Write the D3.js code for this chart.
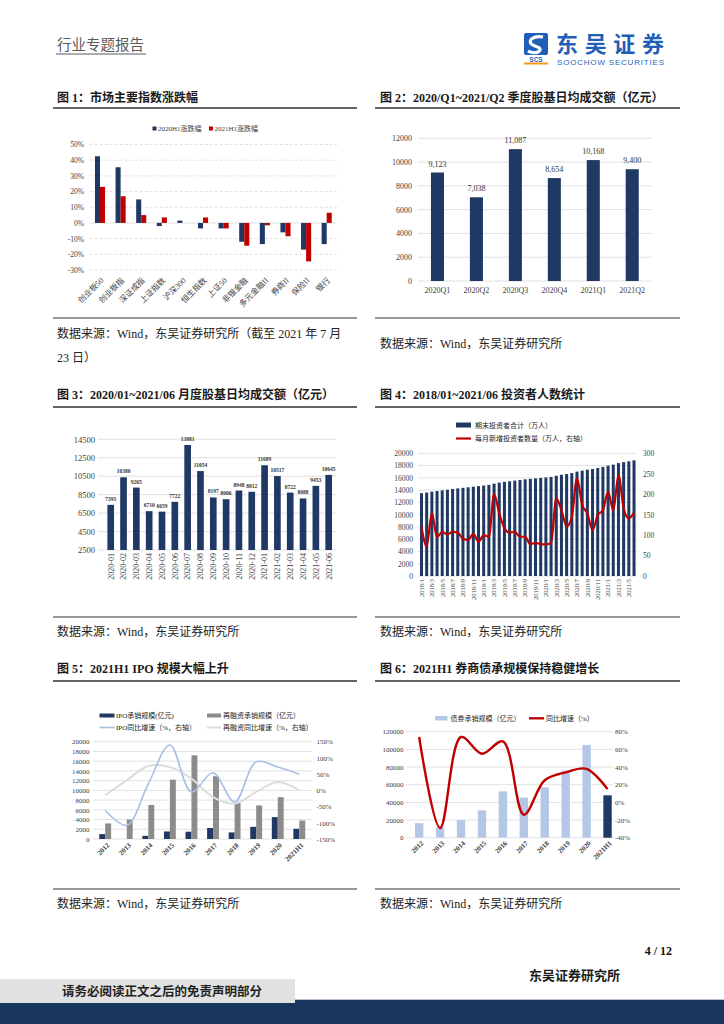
<!DOCTYPE html>
<html>
<head>
<meta charset="utf-8">
<script src="https://cdn.jsdelivr.net/npm/d3@7"></script>
<style>
  body { margin: 0; background: #fff; }
  svg text { font-family: "Liberation Serif", "Times New Roman", "Noto Sans CJK SC", serif; }
</style>
</head>
<body>
<svg id="page" width="724" height="1024"></svg>
<script>
// ===== data =====
// fig 1
var idxNames = ['创业板50', '创业板指', '深证成指', '上证指数', '沪深300', '恒生指数', '上证50', '非银金融', '多元金融II', '券商II', '保险II', '银行'];
var chg2020H1 = [42.5, 35.5, 15, -2, 1.5, -3.5, -3.5, -12, -13.5, -6, -17, -13.5];
var chg2021H1 = [23, 17, 5, 3.5, 0, 3.5, -3.5, -14.5, -1.5, -8.5, -24.5, 6.5];
var pctTicks = [50, 40, 30, 20, 10, 0, -10, -20, -30];

// fig 2
var quarters = ['2020Q1', '2020Q2', '2020Q3', '2020Q4', '2021Q1', '2021Q2'];
var qTurnover = [9123, 7038, 11087, 8654, 10168, 9400];
var qTicks = [0, 2000, 4000, 6000, 8000, 10000, 12000];

// fig 3
var months = ['2020-01', '2020-02', '2020-03', '2020-04', '2020-05', '2020-06', '2020-07', '2020-08', '2020-09',
  '2020-10', '2020-11', '2020-12', '2021-01', '2021-02', '2021-03', '2021-04', '2021-05', '2021-06'];
var mTurnover = [7395, 10380, 9265, 6710, 6659, 7722, 13881, 11054, 8197, 8006, 8948, 8812, 11689, 10517, 8722, 8088, 9453, 10645];
var mTicks = [2500, 4500, 6500, 8500, 10500, 12500, 14500];

// fig 4
var invMonths = ['2018/1', '2018/2', '2018/3', '2018/4', '2018/5', '2018/6', '2018/7', '2018/8', '2018/9', '2018/10', '2018/11', '2018/12',
  '2019/1', '2019/2', '2019/3', '2019/4', '2019/5', '2019/6', '2019/7', '2019/8', '2019/9', '2019/10', '2019/11', '2019/12',
  '2020/1', '2020/2', '2020/3', '2020/4', '2020/5', '2020/6', '2020/7', '2020/8', '2020/9', '2020/10', '2020/11', '2020/12',
  '2021/1', '2021/2', '2021/3', '2021/4', '2021/5', '2021/6'];
var invTotal = [13500, 13600, 13750, 13850, 13960, 14060, 14170, 14280, 14370, 14460, 14560, 14650,
  14750, 14850, 15050, 15220, 15340, 15440, 15550, 15650, 15750, 15830, 15910, 15980,
  16060, 16150, 16340, 16500, 16620, 16770, 17010, 17180, 17340, 17450, 17610, 17780,
  17990, 18150, 18400, 18560, 18700, 18850];
var invNew = [120, 73, 153, 95, 108, 102, 108, 106, 91, 88, 103, 84,
  100, 96, 200, 153, 117, 106, 108, 96, 96, 78, 81, 78,
  77, 81, 190, 161, 121, 145, 239, 174, 153, 112, 149, 161,
  206, 160, 247, 165, 141, 155];
var invTicksL = [0, 2000, 4000, 6000, 8000, 10000, 12000, 14000, 16000, 18000, 20000];
var invTicksR = [0, 50, 100, 150, 200, 250, 300];

// fig 5
var years = ['2012', '2013', '2014', '2015', '2016', '2017', '2018', '2019', '2020', '2021H1'];
var ipoAmt = [1000, 0, 650, 1550, 1500, 2250, 1350, 2500, 4500, 2100];
var refiAmt = [3200, 4000, 7000, 12200, 17200, 12900, 7400, 6900, 8600, 3800];
var ipoYoy = [-62, -108, 20, 140, -5, 54, -36, 88, 72, 50];
var refiYoy = [-15, 31, 75, 72, 36, -21, -41, -5, 26, 0];
var amtTicks5 = [0, 2000, 4000, 6000, 8000, 10000, 12000, 14000, 16000, 18000, 20000];
var yoyTicks5 = [-150, -100, -50, 0, 50, 100, 150];

// fig 6
var bondAmt = [16500, 11500, 20000, 31000, 52500, 45500, 57000, 76000, 105000, 48000];
var bondYoy = [74, -29, 74, 55, 69, -14, 25, 34, 38, 15];
var amtTicks6 = [0, 20000, 40000, 60000, 80000, 100000, 120000];
var yoyTicks6 = [-40, -20, 0, 20, 40, 60, 80];

// ===== styles =====
var NAVY = '#203864';
var RED = '#c00000';
var AXIS_TXT = '#404040';
var GRID = '#d9d9d9';
var SANS = '"Liberation Sans", Arial, sans-serif';

var svg = d3.select('#page');

// ===== helpers =====
function gridLines(g, y, ticks, x0, x1, dash) {
  g.selectAll(null).data(ticks).enter().append('line')
    .attr('x1', x0).attr('x2', x1)
    .attr('y1', function (d) { return y(d); })
    .attr('y2', function (d) { return y(d); })
    .attr('stroke', GRID).attr('stroke-width', 0.8)
    .attr('stroke-dasharray', dash || null);
}

function yAxis(g, scale, ticks, x, fmt, size, right) {
  var ax = right ? d3.axisRight(scale) : d3.axisLeft(scale);
  ax.tickValues(ticks).tickSize(0).tickPadding(0).tickFormat(fmt);
  var a = g.append('g').attr('transform', 'translate(' + x + ',0)').call(ax);
  a.select('.domain').remove();
  a.selectAll('text').attr('font-size', size).attr('fill', AXIS_TXT);
}

function rotLabels(g, x, list, y, angle, size, bold, dx) {
  g.selectAll(null).data(list).enter().append('text')
    .attr('transform', function (d) {
      return 'translate(' + (x(d) + x.bandwidth() / 2 + dx) + ',' + y + ') rotate(' + angle + ')';
    })
    .attr('text-anchor', 'end')
    .attr('dy', '0.35em')
    .attr('font-size', size)
    .attr('font-weight', bold ? 'bold' : null)
    .attr('fill', AXIS_TXT)
    .text(function (d) { return d; });
}

function txt(x, y, s, size, opts) {
  opts = opts || {};
  return svg.append('text').attr('x', x).attr('y', y).attr('font-size', size)
    .attr('fill', opts.fill || '#222')
    .attr('font-weight', opts.bold ? 'bold' : null)
    .attr('text-anchor', opts.anchor || 'start')
    .text(s);
}

function pct(d) { return d + '%'; }

// ===== page header =====
txt(57, 50, '行业专题报告', 14.5, { fill: '#595959' });
svg.append('line').attr('x1', 56).attr('x2', 146).attr('y1', 54).attr('y2', 54)
  .attr('stroke', '#595959').attr('stroke-width', 1);

// logo
var logo = svg.append('g');
logo.append('rect').attr('x', 524).attr('y', 33).attr('width', 24).attr('height', 22).attr('rx', 2).attr('fill', '#1f5fb8');
logo.append('path')
  .attr('d', 'M543,37 C533,35 527,41 532,44.5 C536,47.5 541,46.5 540,50 C538,54 531,53 528,51')
  .attr('fill', 'none').attr('stroke', '#fff').attr('stroke-width', 3.2);
logo.append('text').attr('x', 536).attr('y', 61.5).attr('text-anchor', 'middle')
  .attr('font-size', 6.5).attr('font-weight', 'bold').attr('fill', '#1f5fb8')
  .style('font-family', SANS).text('SCS');
logo.append('rect').attr('x', 524).attr('y', 62.5).attr('width', 24).attr('height', 2).attr('fill', '#f39a1e');
logo.append('text').attr('x', 556).attr('y', 51.5).attr('font-size', 22).attr('font-weight', 'bold')
  .attr('fill', '#1f5fb8').style('font-family', '"Noto Sans CJK SC", sans-serif')
  .attr('textLength', 108).text('东吴证券');
logo.append('text').attr('x', 557).attr('y', 64.5).attr('font-size', 8)
  .attr('fill', '#1f5fb8').style('font-family', SANS).attr('textLength', 107)
  .text('SOOCHOW SECURITIES');

// ===== titles, rules, captions =====
var titleRows = [102, 399, 673];
var titleTexts = [
  ['图 1：市场主要指数涨跌幅', '图 2：2020/Q1~2021/Q2 季度股基日均成交额（亿元）'],
  ['图 3：2020/01~2021/06 月度股基日均成交额（亿元）', '图 4：2018/01~2021/06 投资者人数统计'],
  ['图 5：2021H1 IPO 规模大幅上升', '图 6：2021H1 券商债承规模保持稳健增长']
];
var ruleTop = [108, 407, 681];
var ruleBottom = [318, 617, 889];
titleRows.forEach(function (y, i) {
  txt(57, y, titleTexts[i][0], 12, { bold: true, fill: '#1a1a1a' });
  txt(380, y, titleTexts[i][1], 12, { bold: true, fill: '#1a1a1a' });
  [[53, 357], [375, 680]].forEach(function (xx) {
    svg.append('line').attr('x1', xx[0]).attr('x2', xx[1]).attr('y1', ruleTop[i]).attr('y2', ruleTop[i])
      .attr('stroke', '#333').attr('stroke-width', 1.6);
    svg.append('line').attr('x1', xx[0]).attr('x2', xx[1]).attr('y1', ruleBottom[i]).attr('y2', ruleBottom[i])
      .attr('stroke', '#333').attr('stroke-width', 1.2);
  });
});

var SRC = '数据来源：Wind，东吴证券研究所';
txt(57, 338, SRC + '（截至 2021 年 7 月', 12);
txt(57, 362, '23 日）', 12);
txt(380, 348, SRC, 12);
txt(57, 636, SRC, 12);
txt(380, 636, SRC, 12);
txt(57, 908, SRC, 12);
txt(380, 908, SRC, 12);

// ===== fig 1: index returns =====
var g1 = svg.append('g');
var y1 = d3.scaleLinear().domain([-30, 50]).range([270, 144.5]);
var x1 = d3.scaleBand().domain(idxNames).range([89.7, 337]);
gridLines(g1, y1, pctTicks.filter(function (d) { return d !== 0; }), 89.7, 337, '3,2');
gridLines(g1, y1, [0], 89.7, 337);
yAxis(g1, y1, pctTicks, 84, pct, 7.5);

var bw1 = x1.bandwidth() * 0.245;
function barY(y, v) { return Math.min(y(0), y(v)); }
function barH(y, v) { return Math.abs(y(v) - y(0)); }

g1.selectAll(null).data(idxNames).enter().append('rect')
  .attr('x', function (d) { return x1(d) + x1.bandwidth() / 2 - bw1; })
  .attr('y', function (d, i) { return barY(y1, chg2020H1[i]); })
  .attr('width', bw1)
  .attr('height', function (d, i) { return barH(y1, chg2020H1[i]); })
  .attr('fill', NAVY);
g1.selectAll(null).data(idxNames).enter().append('rect')
  .attr('x', function (d) { return x1(d) + x1.bandwidth() / 2; })
  .attr('y', function (d, i) { return barY(y1, chg2021H1[i]); })
  .attr('width', bw1)
  .attr('height', function (d, i) { return barH(y1, chg2021H1[i]); })
  .attr('fill', RED);
rotLabels(g1, x1, idxNames, 279, -45, 8, false, 2);

// legend
g1.append('rect').attr('x', 152.5).attr('y', 126.5).attr('width', 4).attr('height', 4).attr('fill', NAVY);
g1.append('text').attr('x', 158).attr('y', 131).attr('font-size', 7).attr('fill', AXIS_TXT).text('2020H1涨跌幅');
g1.append('rect').attr('x', 209).attr('y', 126.5).attr('width', 4).attr('height', 4).attr('fill', RED);
g1.append('text').attr('x', 214.5).attr('y', 131).attr('font-size', 7).attr('fill', AXIS_TXT).text('2021H1涨跌幅');

// ===== fig 2: quarterly turnover =====
var g2 = svg.append('g');
var y2 = d3.scaleLinear().domain([0, 12000]).range([281, 138.3]);
var x2 = d3.scaleBand().domain(quarters).range([418, 651.7]).paddingInner(0.665).paddingOuter(0.3325);
gridLines(g2, y2, qTicks, 418, 651.7);
yAxis(g2, y2, qTicks, 412, d3.format('d'), 8);
g2.selectAll(null).data(quarters).enter().append('rect')
  .attr('x', function (d) { return x2(d); })
  .attr('y', function (d, i) { return y2(qTurnover[i]); })
  .attr('width', x2.bandwidth())
  .attr('height', function (d, i) { return y2(0) - y2(qTurnover[i]); })
  .attr('fill', NAVY);
g2.selectAll(null).data(quarters).enter().append('text')
  .attr('x', function (d) { return x2(d) + x2.bandwidth() / 2; })
  .attr('y', function (d, i) { return y2(qTurnover[i]) - 6; })
  .attr('text-anchor', 'middle').attr('font-size', 8).attr('fill', '#333')
  .text(function (d, i) { return d3.format(',')(qTurnover[i]); });
g2.append('g').attr('transform', 'translate(0,281)')
  .call(d3.axisBottom(x2).tickSize(0).tickPadding(6))
  .call(function (a) { a.select('.domain').remove(); })
  .selectAll('text').attr('font-size', 8).attr('fill', AXIS_TXT);

// ===== fig 3: monthly turnover =====
var g3 = svg.append('g');
var y3 = d3.scaleLinear().domain([2500, 14500]).range([550, 439.3]);
var x3 = d3.scaleBand().domain(months).range([104.3, 335.1]).paddingInner(0.48).paddingOuter(0.24);
gridLines(g3, y3, mTicks, 98, 336);
yAxis(g3, y3, mTicks, 95, d3.format('d'), 8.5);
g3.selectAll(null).data(months).enter().append('rect')
  .attr('x', function (d) { return x3(d); })
  .attr('y', function (d, i) { return y3(mTurnover[i]); })
  .attr('width', x3.bandwidth())
  .attr('height', function (d, i) { return y3(2500) - y3(mTurnover[i]); })
  .attr('fill', NAVY);
g3.selectAll(null).data(months).enter().append('text')
  .attr('x', function (d) { return x3(d) + x3.bandwidth() / 2; })
  .attr('y', function (d, i) { return y3(mTurnover[i]) - 4; })
  .attr('text-anchor', 'middle').attr('font-size', 5.5).attr('font-weight', 'bold').attr('fill', '#333')
  .text(function (d, i) { return mTurnover[i]; });
rotLabels(g3, x3, months, 553, -90, 8, false, 0);

// ===== fig 4: investors =====
var g4 = svg.append('g');
var y4L = d3.scaleLinear().domain([0, 20000]).range([576, 453.3]);
var y4R = d3.scaleLinear().domain([0, 300]).range([576, 453.3]);
var x4 = d3.scaleBand().domain(invMonths).range([418.9, 636.6]).paddingInner(0.42).paddingOuter(0.21);
gridLines(g4, y4L, invTicksL, 418, 637);
yAxis(g4, y4L, invTicksL, 413, d3.format('d'), 7.5);
yAxis(g4, y4R, invTicksR, 643, d3.format('d'), 7.5, true);
g4.selectAll(null).data(invMonths).enter().append('rect')
  .attr('x', function (d) { return x4(d); })
  .attr('y', function (d, i) { return y4L(invTotal[i]); })
  .attr('width', x4.bandwidth())
  .attr('height', function (d, i) { return y4L(0) - y4L(invTotal[i]); })
  .attr('fill', NAVY);
var line4 = d3.line()
  .x(function (d, i) { return x4(invMonths[i]) + x4.bandwidth() / 2; })
  .y(function (d) { return y4R(d); })
  .curve(d3.curveMonotoneX);
g4.append('path').datum(invNew).attr('d', line4)
  .attr('fill', 'none').attr('stroke', RED).attr('stroke-width', 2.2);
rotLabels(g4, x4, invMonths.filter(function (d, i) { return i % 2 === 0; }), 579, -90, 6.5, false, 0);

g4.append('rect').attr('x', 456).attr('y', 422.5).attr('width', 15).attr('height', 5).attr('fill', NAVY);
g4.append('text').attr('x', 475).attr('y', 428).attr('font-size', 7).attr('fill', '#222').text('期末投资者合计（万人）');
g4.append('line').attr('x1', 456).attr('x2', 471).attr('y1', 438.5).attr('y2', 438.5).attr('stroke', RED).attr('stroke-width', 2.2);
g4.append('text').attr('x', 475).attr('y', 441).attr('font-size', 7).attr('fill', '#222').text('每月新增投资者数量（万人，右轴）');

// ===== fig 5: IPO / refinancing =====
var g5 = svg.append('g');
var y5L = d3.scaleLinear().domain([0, 20000]).range([839, 741.7]);
var y5R = d3.scaleLinear().domain([-150, 150]).range([839, 741.7]);
var x5 = d3.scaleBand().domain(years).range([94.4, 310.1]);
gridLines(g5, y5L, amtTicks5, 93, 312);
yAxis(g5, y5L, amtTicks5, 89.5, d3.format('d'), 7);
yAxis(g5, y5R, yoyTicks5, 316.5, pct, 7, true);
var bw5 = x5.bandwidth() * 0.275;
g5.selectAll(null).data(years).enter().append('rect')
  .attr('x', function (d) { return x5(d) + x5.bandwidth() / 2 - bw5; })
  .attr('y', function (d, i) { return y5L(ipoAmt[i]); })
  .attr('width', bw5)
  .attr('height', function (d, i) { return y5L(0) - y5L(ipoAmt[i]); })
  .attr('fill', NAVY);
g5.selectAll(null).data(years).enter().append('rect')
  .attr('x', function (d) { return x5(d) + x5.bandwidth() / 2; })
  .attr('y', function (d, i) { return y5L(refiAmt[i]); })
  .attr('width', bw5)
  .attr('height', function (d, i) { return y5L(0) - y5L(refiAmt[i]); })
  .attr('fill', '#8c8c8c');
var line5 = d3.line()
  .x(function (d, i) { return x5(years[i]) + x5.bandwidth() / 2; })
  .y(function (d) { return y5R(d); })
  .curve(d3.curveCatmullRom);
g5.append('path').datum(refiYoy).attr('d', line5)
  .attr('fill', 'none').attr('stroke', '#dcdcdc').attr('stroke-width', 2);
g5.append('path').datum(ipoYoy).attr('d', line5)
  .attr('fill', 'none').attr('stroke', '#a9bfe6').attr('stroke-width', 1.6);
rotLabels(g5, x5, years, 844, -45, 7, true, 3);

g5.append('rect').attr('x', 99.5).attr('y', 713.5).attr('width', 15).attr('height', 4).attr('fill', NAVY);
g5.append('text').attr('x', 116).attr('y', 718).attr('font-size', 7).attr('fill', '#222').text('IPO承销规模(亿元)');
g5.append('rect').attr('x', 207).attr('y', 713.5).attr('width', 14).attr('height', 4).attr('fill', '#8c8c8c');
g5.append('text').attr('x', 223).attr('y', 718).attr('font-size', 7).attr('fill', '#222').text('再融资承销规模（亿元）');
g5.append('line').attr('x1', 99.5).attr('x2', 114.5).attr('y1', 727.5).attr('y2', 727.5).attr('stroke', '#a9bfe6').attr('stroke-width', 1.6);
g5.append('text').attr('x', 116).attr('y', 730).attr('font-size', 7).attr('fill', '#222').text('IPO同比增速（%，右轴）');
g5.append('line').attr('x1', 207).attr('x2', 221).attr('y1', 727.5).attr('y2', 727.5).attr('stroke', '#dcdcdc').attr('stroke-width', 2);
g5.append('text').attr('x', 223).attr('y', 730).attr('font-size', 7).attr('fill', '#222').text('再融资同比增速（%，右轴）');

// ===== fig 6: bond underwriting =====
var g6 = svg.append('g');
var y6L = d3.scaleLinear().domain([0, 120000]).range([837.7, 731.7]);
var y6R = d3.scaleLinear().domain([-40, 80]).range([837.7, 731.7]);
var x6 = d3.scaleBand().domain(years).range([408.7, 618]).paddingInner(0.6).paddingOuter(0.3);
gridLines(g6, y6L, amtTicks6, 406, 613);
yAxis(g6, y6L, amtTicks6, 403.5, d3.format('d'), 7);
yAxis(g6, y6R, yoyTicks6, 615, pct, 7, true);
g6.selectAll(null).data(years).enter().append('rect')
  .attr('x', function (d) { return x6(d); })
  .attr('y', function (d, i) { return y6L(bondAmt[i]); })
  .attr('width', x6.bandwidth())
  .attr('height', function (d, i) { return y6L(0) - y6L(bondAmt[i]); })
  .attr('fill', function (d, i) { return i === years.length - 1 ? NAVY : '#b4c7e7'; });
var line6 = d3.line()
  .x(function (d, i) { return x6(years[i]) + x6.bandwidth() / 2; })
  .y(function (d) { return y6R(d); })
  .curve(d3.curveCatmullRom);
g6.append('path').datum(bondYoy).attr('d', line6)
  .attr('fill', 'none').attr('stroke', RED).attr('stroke-width', 2.4);
rotLabels(g6, x6, years, 842, -45, 7, true, 3);

g6.append('rect').attr('x', 435).attr('y', 716).attr('width', 12.5).attr('height', 4.5).attr('fill', '#b4c7e7');
g6.append('text').attr('x', 450.5).attr('y', 721).attr('font-size', 7).attr('fill', '#222').text('债券承销规模（亿元）');
g6.append('line').attr('x1', 529).attr('x2', 544).attr('y1', 718.3).attr('y2', 718.3).attr('stroke', RED).attr('stroke-width', 2.4);
g6.append('text').attr('x', 546).attr('y', 721).attr('font-size', 7).attr('fill', '#222').text('同比增速（%）');

// ===== footer =====
txt(672, 955, '4 / 12', 12, { bold: true, anchor: 'end', fill: '#111' });
txt(620, 980, '东吴证券研究所', 13, { bold: true, anchor: 'end', fill: '#1a1a1a' });
svg.append('rect').attr('x', 0).attr('y', 999).attr('width', 724).attr('height', 25).attr('fill', '#18365d');
svg.append('line').attr('x1', 295).attr('x2', 724).attr('y1', 999.5).attr('y2', 999.5).attr('stroke', '#b8c2d2').attr('stroke-width', 1);
svg.append('rect').attr('x', 0).attr('y', 979).attr('width', 295).attr('height', 24).attr('fill', '#e1e1e1');
txt(162, 996, '请务必阅读正文之后的免责声明部分', 12.5, { bold: true, anchor: 'middle', fill: '#222' });
</script>
</body>
</html>
